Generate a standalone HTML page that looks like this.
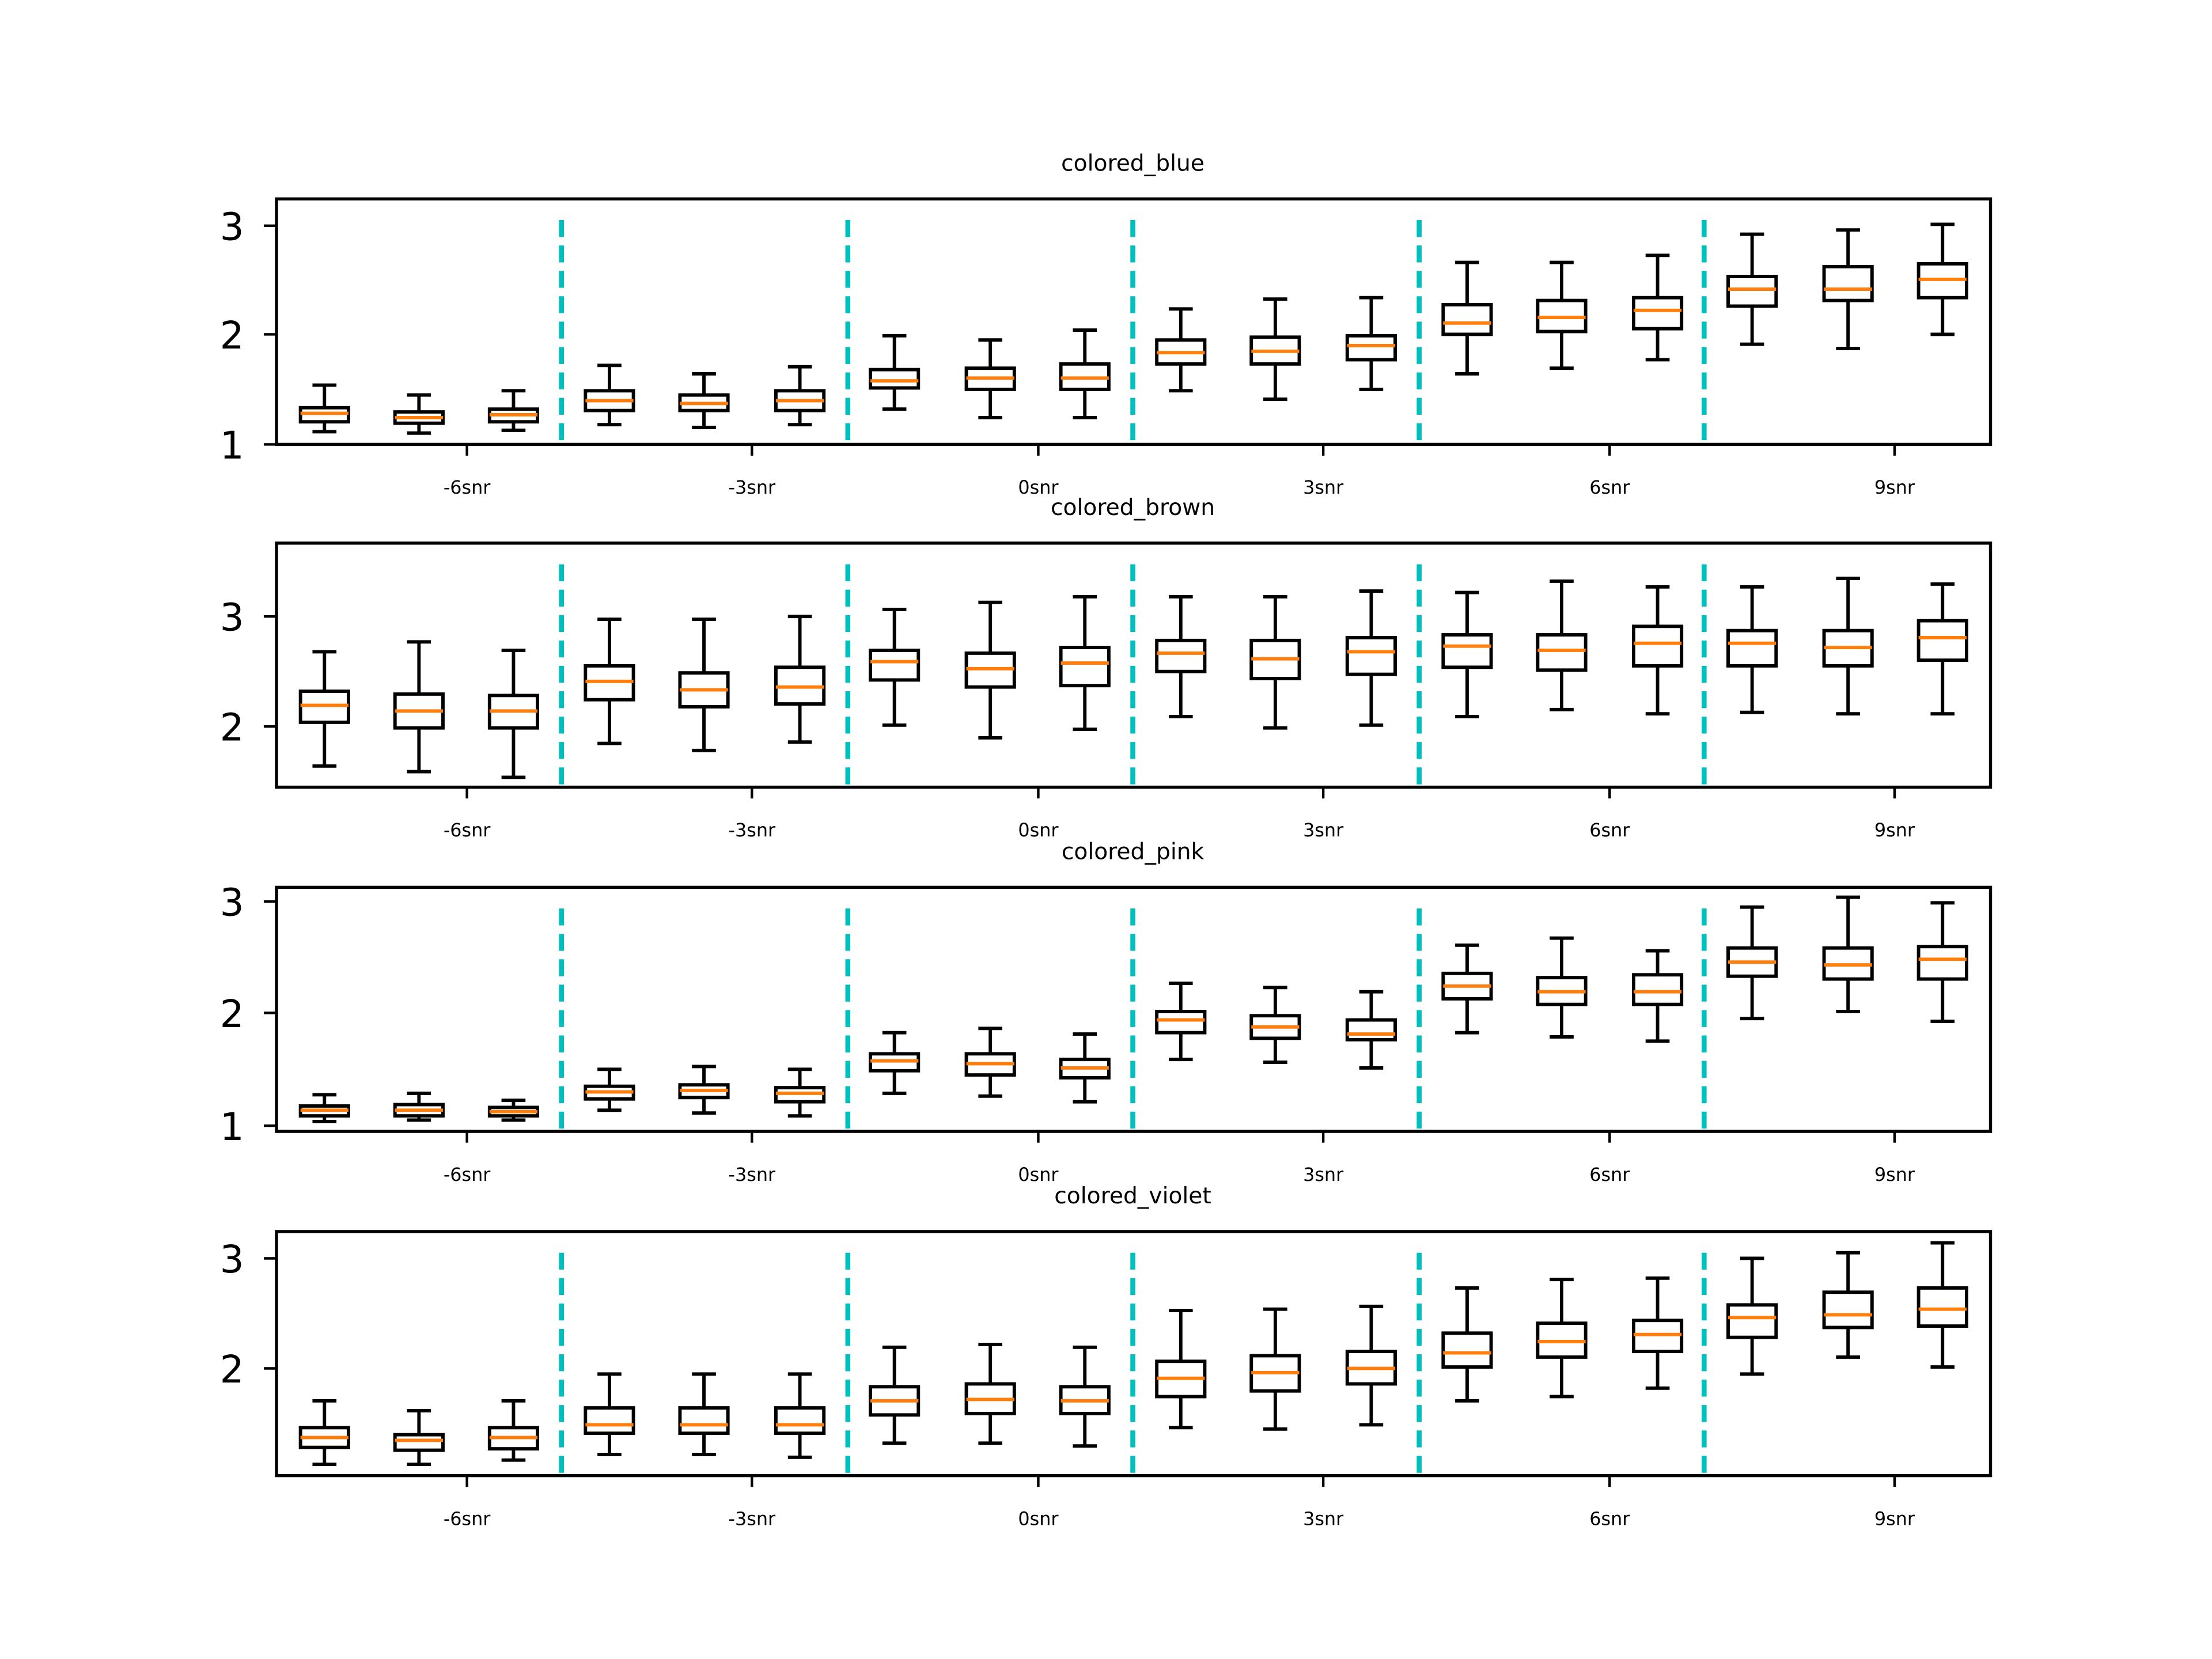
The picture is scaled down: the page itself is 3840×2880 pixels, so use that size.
<!DOCTYPE html>
<html><head><meta charset="utf-8"><style>html,body{margin:0;padding:0;background:#fff}svg{display:block}</style></head>
<body>
<svg id="s" width="3840" height="2880" viewBox="0 0 1568 1176" xmlns="http://www.w3.org/2000/svg" font-family="'DejaVu Sans','Liberation Sans',sans-serif">
<rect width="1568" height="1176" fill="#fff"/>
<g font-size="16" text-anchor="middle" fill="#000">
<text x="803" y="121">colored_blue</text>
<text x="803" y="365">colored_brown</text>
<text x="803" y="609">colored_pink</text>
<text x="803" y="853">colored_violet</text>
</g>
<g font-size="27" text-anchor="end" fill="#000">
<text x="173" y="170">3</text><text x="173" y="247">2</text><text x="173" y="325">1</text>
<text x="173" y="447">3</text><text x="173" y="525">2</text>
<text x="173" y="649">3</text><text x="173" y="728">2</text><text x="173" y="808">1</text>
<text x="173" y="902">3</text><text x="173" y="980">2</text>
</g>
<g id="xl" font-size="13" text-anchor="middle" fill="#000"></g>
<g id="g"></g>
</svg>
<script>
var NS="http://www.w3.org/2000/svg",g=document.getElementById('g'),xl=document.getElementById('xl');
function el(t,a,p){var e=document.createElementNS(NS,t);for(var k in a)e.setAttribute(k,a[k]);(p||g).appendChild(e);return e;}
var xs=[230,297,364,432,499,567,634,702,769,837,904,972,1040,1107,1175,1242,1310,1377];
var dv=[398,601,803,1006,1208],tk=[331,533,736,938,1141,1343],tn=['-6snr','-3snr','0snr','3snr','6snr','9snr'];
var panels=[
{t:141,b:315,yt:[160,237,315],d:[[273,289,293,299,306],[280,292,296,300,307],[277,290,294,299,305],[259,277,284,291,301],[265,280,286,291,303],[260,277,284,291,301],[238,262,270,275,290],[241,261,268,276,296],[234,258,268,276,296],[219,241,250,258,277],[212,239,249,258,283],[211,238,245,255,276],[186,216,229,237,265],[186,213,225,235,261],[181,211,220,233,255],[166,196,205,217,244],[163,189,205,213,247],[159,187,198,211,237]]},
{t:385,b:558,yt:[437,515],d:[[462,490,500,512,543],[455,492,504,516,547],[461,493,504,516,551],[439,472,483,496,527],[439,477,489,501,532],[437,473,487,499,526],[432,461,469,482,514],[427,463,474,487,523],[423,459,470,486,517],[423,454,463,476,508],[423,454,467,481,516],[419,452,462,478,514],[420,450,458,473,508],[412,450,461,475,503],[416,444,456,472,506],[416,447,456,472,505],[410,447,459,472,506],[414,440,452,468,506]]},
{t:629,b:802,yt:[639,718,798],d:[[776,784,787,791,795],[775,783,787,791,794],[780,785,788,791,794],[758,770,774,779,787],[756,769,773,778,789],[758,771,775,781,791],[732,747,752,759,775],[729,747,754,762,777],[733,751,757,764,781],[697,717,723,732,751],[700,720,728,736,753],[703,723,733,737,757],[670,690,699,708,732],[665,693,703,712,735],[674,691,703,712,738],[643,672,682,692,722],[636,672,684,694,717],[640,671,680,694,724]]},
{t:873,b:1046,yt:[892,970],d:[[993,1012,1019,1026,1038],[1000,1017,1021,1028,1038],[993,1012,1019,1027,1035],[974,998,1010,1016,1031],[974,998,1010,1016,1031],[974,998,1010,1016,1033],[955,983,993,1003,1023],[953,981,992,1002,1023],[955,983,993,1002,1025],[929,965,977,990,1012],[928,961,973,986,1013],[926,958,970,981,1010],[913,945,959,969,993],[907,938,951,962,990],[906,936,946,958,984],[892,925,934,948,974],[888,916,932,941,962],[881,913,928,940,969]]}];
panels.forEach(function(p){
 p.d.forEach(function(v,i){var x=xs[i];
  el('line',{x1:x,x2:x,y1:v[0],y2:v[1],stroke:'#000','stroke-width':2.4});
  el('line',{x1:x,x2:x,y1:v[3],y2:v[4],stroke:'#000','stroke-width':2.4});
  el('line',{x1:x-8.5,x2:x+8.5,y1:v[0],y2:v[0],stroke:'#000','stroke-width':2.4});
  el('line',{x1:x-8.5,x2:x+8.5,y1:v[4],y2:v[4],stroke:'#000','stroke-width':2.4});
  el('rect',{x:x-17,y:v[1],width:34,height:v[3]-v[1],fill:'none',stroke:'#000','stroke-width':2.4});
  el('line',{x1:x-17,x2:x+17,y1:v[2],y2:v[2],stroke:'#ff7f0e','stroke-width':2.4});
 });
 dv.forEach(function(x){el('line',{x1:x,x2:x,y1:p.t+15,y2:p.b,stroke:'#00bfbf','stroke-width':3.5,'stroke-dasharray':'12,6'});});
 tk.forEach(function(x,i){el('line',{x1:x,x2:x,y1:p.b,y2:p.b+8,stroke:'#000','stroke-width':1.8});
  var t=el('text',{x:x,y:p.b+35},xl);t.textContent=tn[i];});
 p.yt.forEach(function(y){el('line',{x1:187,x2:196,y1:y,y2:y,stroke:'#000','stroke-width':1.8});});
 el('rect',{x:196,y:p.t,width:1215,height:p.b-p.t,fill:'none',stroke:'#000','stroke-width':2.2});
});
</script>
</body></html>
